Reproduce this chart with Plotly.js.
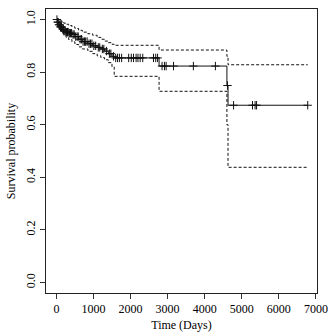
<!DOCTYPE html>
<html>
<head>
<meta charset="utf-8">
<script src="https://cdn.plot.ly/plotly-3.0.1.min.js"></script>
<style>
  html, body { margin: 0; padding: 0; background: #fff; }
  #plot { width: 332px; height: 332px; }
</style>
</head>
<body>
<div id="plot"></div>
<script>
// Kaplan-Meier estimate (step times in days)
var stepTimes = [0, 30, 60, 100, 150, 200, 260, 330, 420, 500, 600, 700, 850, 980, 1100, 1200, 1300, 1400, 1500, 1560, 2770, 4600, 4630];
var survival  = [1.0, 0.99, 0.98, 0.972, 0.963, 0.956, 0.952, 0.948, 0.943, 0.935, 0.925, 0.916, 0.908, 0.9, 0.894, 0.888, 0.88, 0.87, 0.86, 0.854, 0.823, 0.749, 0.674];
var upperCI   = [1.0, 1.0, 0.998, 0.995, 0.99, 0.986, 0.982, 0.977, 0.972, 0.966, 0.959, 0.952, 0.946, 0.94, 0.932, 0.925, 0.918, 0.912, 0.906, 0.902, 0.884, 0.86, 0.828];
var lowerCI   = [1.0, 0.982, 0.97, 0.958, 0.948, 0.94, 0.932, 0.924, 0.915, 0.905, 0.896, 0.888, 0.879, 0.87, 0.862, 0.855, 0.847, 0.836, 0.82, 0.784, 0.727, 0.6, 0.438];
var lastTime = 6780;

// censored observations
var censorTimes = [15, 35, 50, 70, 90, 110, 125, 140, 175, 190, 210, 240, 275, 300, 320, 350, 380, 410, 450, 480, 520, 560, 590, 640, 680, 720, 760, 790, 830, 880, 920, 960, 1010, 1060, 1130, 1170, 1240, 1280, 1350, 1430, 1470, 1540,
  1600, 1650, 1700, 1760, 1950, 2020, 2080, 2150, 2200, 2260, 2330, 2620, 2680, 2730,
  2850, 2915, 2960, 3160, 3695, 4290, 4615, 4780, 5290, 5360, 5400, 6780];

var xTicks = [0, 1000, 2000, 3000, 4000, 5000, 6000, 7000];
var yTicks = [0.0, 0.2, 0.4, 0.6, 0.8, 1.0];

function withEnd(arr){
	return arr.concat([arr[arr.length - 1]]);
}
function survAt(t){
	var s = 1;
	for (var i = 0; i < stepTimes.length; i++){
		if (stepTimes[i] <= t) s = survival[i];
	}
	return s;
}

var xs = stepTimes.concat([lastTime]);
var ink = '#111';
var dashed = {color: ink, width: 1, dash: '3px,2px', shape: 'hv'};

var data = [
	{x: xs, y: withEnd(upperCI), mode: 'lines', line: dashed, hoverinfo: 'skip'},
	{x: xs, y: withEnd(lowerCI), mode: 'lines', line: dashed, hoverinfo: 'skip'},
	{x: xs, y: withEnd(survival), mode: 'lines', line: {color: ink, width: 1, shape: 'hv'}},
	{x: censorTimes, y: censorTimes.map(survAt), mode: 'markers',
		marker: {symbol: 'cross-thin', size: 6, line: {color: ink, width: 1}}}
];

var font = {family: 'Liberation Serif, Times New Roman, serif', size: 12, color: '#000'};

var layout = {
	width: 332, height: 332,
	margin: {l: 46, r: 15, t: 9, b: 39},
	paper_bgcolor: '#fff', plot_bgcolor: '#fff',
	showlegend: false,
	font: font,
	xaxis: {
		range: [-280, 7030],
		tickvals: xTicks, ticktext: xTicks.map(String),
		ticks: 'outside', ticklen: 5, tickcolor: '#333',
		showline: true, mirror: true, linecolor: '#222', linewidth: 1,
		showgrid: false, zeroline: false,
		title: {text: 'Time (Days)', font: font, standoff: 8}
	},
	yaxis: {
		range: [-0.04, 1.04],
		tickvals: yTicks, ticktext: yTicks.map(function(v){ return v.toFixed(1); }),
		tickangle: -90,
		ticks: 'outside', ticklen: 5, tickcolor: '#333',
		showline: true, mirror: true, linecolor: '#222', linewidth: 1,
		showgrid: false, zeroline: false,
		title: {text: 'Survival probability', font: font, standoff: 6}
	}
};

Plotly.newPlot('plot', data, layout, {staticPlot: true, displayModeBar: false});
</script>
</body>
</html>
